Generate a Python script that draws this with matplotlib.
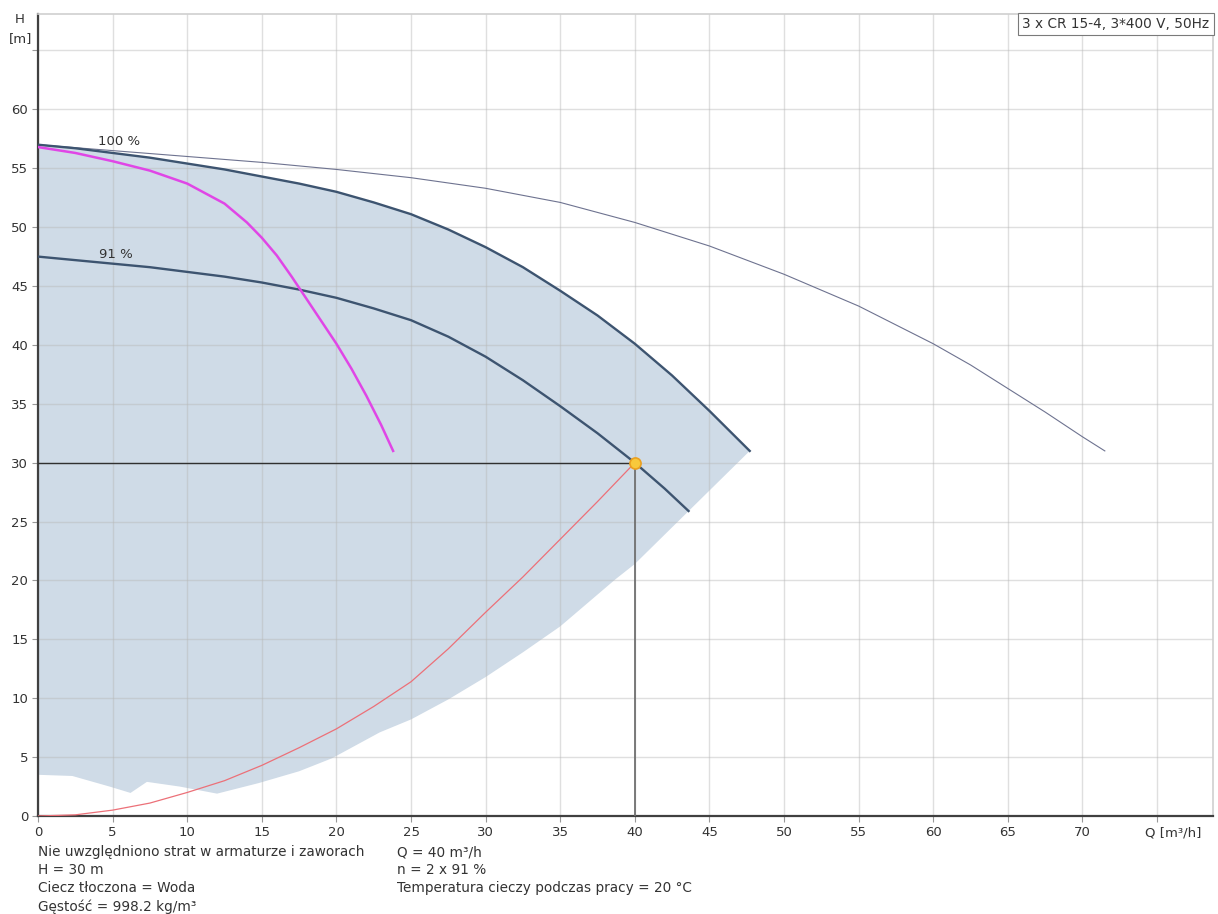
import matplotlib
matplotlib.use("Agg")
import matplotlib.pyplot as plt


# 3 pumps, 100 % speed (thin curve)
q_three = [0, 5, 10, 15, 20, 25, 30, 35, 40, 45, 50, 55, 60, 62.5, 65, 67.5, 70, 71.5]
h_three = [57.0, 56.5, 56.0, 55.5, 54.9, 54.2, 53.3, 52.1, 50.4, 48.4, 46.0, 43.3, 40.1,
           38.3, 36.3, 34.3, 32.2, 31.0]

# 2 pumps, 100 % speed (upper edge of the shaded area)
q_full = [0, 2.5, 5, 7.5, 10, 12.5, 15, 17.5, 20, 22.5, 25, 27.5, 30, 32.5, 35, 37.5,
          40, 42.5, 45, 47.7]
h_full = [57.0, 56.7, 56.3, 55.9, 55.4, 54.9, 54.3, 53.7, 53.0, 52.1, 51.1, 49.8, 48.3,
          46.6, 44.6, 42.5, 40.1, 37.4, 34.4, 31.0]

# 2 pumps, 91 % speed
q_91 = [0, 2.5, 5, 7.5, 10, 12.5, 15, 17.5, 20, 22.5, 25, 27.5, 30, 32.5, 35, 37.5, 40,
        42, 43.6]
h_91 = [47.5, 47.2, 46.9, 46.6, 46.2, 45.8, 45.3, 44.7, 44.0, 43.1, 42.1, 40.7, 39.0,
        37.0, 34.8, 32.5, 30.0, 27.8, 25.9]

# 1 pump, 100 % speed
q_single = [0, 2.5, 5, 7.5, 10, 12.5, 14, 15, 16, 17, 18, 19, 20, 21, 22, 23, 23.8]
h_single = [56.8, 56.3, 55.6, 54.8, 53.7, 52.0, 50.4, 49.1, 47.6, 45.8, 43.9, 42.0, 40.1,
            38.0, 35.7, 33.2, 31.0]

# system curve
q_system = [0, 2.5, 5, 7.5, 10, 12.5, 15, 17.5, 20, 22.5, 25, 27.5, 30, 32.5, 35, 37.5, 40]
h_system = [0.0, 0.1, 0.5, 1.1, 2.0, 3.0, 4.3, 5.8, 7.4, 9.3, 11.4, 14.2, 17.3, 20.3,
            23.5, 26.7, 30.0]

# lower edge of the shaded area
q_lower = [0, 2.3, 4.8, 6.2, 7.3, 9.5, 12, 14.8, 17.5, 19.7, 22.9, 25, 27.5, 30, 32.5,
           35, 38.7, 40, 47.7]
h_lower = [3.5, 3.4, 2.5, 1.96, 2.9, 2.5, 1.9, 2.8, 3.8, 4.9, 7.1, 8.2, 9.9, 11.8, 13.9,
           16.1, 20.1, 21.4, 31.0]

Q_DUTY = 40
H_DUTY = 30

x_ticks = list(range(0, 80, 5))
x_labels = [str(v) for v in range(0, 75, 5)] + [""]
y_ticks = list(range(0, 70, 5))
y_labels = [str(v) for v in range(0, 65, 5)] + [""]

notes_left = [
    "Nie uwzględniono strat w armaturze i zaworach",
    "H = 30 m",
    "Ciecz tłoczona = Woda",
    "Gęstość = 998.2 kg/m³",
]
notes_right = [
    "Q = 40 m³/h",
    "n = 2 x 91 %",
    "Temperatura cieczy podczas pracy = 20 °C",
]

TEXT_COLOR = "#333333"
NOTE_SIZE = 9.8

plt.rcParams["font.family"] = ["DejaVu Sans"]
plt.rcParams["font.size"] = 9.5

fig = plt.figure(figsize=(12.18, 9.14), dpi=100)
ax = fig.add_axes([0.0312, 0.1072, 0.9647, 0.8775])

# shaded operating range
poly_q = [0] + q_full + q_lower[::-1]
poly_h = [h_lower[0]] + h_full + h_lower[::-1]
ax.fill(poly_q, poly_h, color="#cfdbe7", lw=0, zorder=1)

ax.plot(q_three, h_three, color="#6e7390", lw=0.8, zorder=3)
ax.plot(q_full, h_full, color="#3d5470", lw=1.7, zorder=3)
ax.plot(q_91, h_91, color="#3d5470", lw=1.7, zorder=3)
ax.plot(q_single, h_single, color="#e046e6", lw=1.8, zorder=3)
ax.plot(q_system, h_system, color="#ec7078", lw=0.9, zorder=3)

# duty point
ax.plot([0, Q_DUTY], [H_DUTY, H_DUTY], color="#303030", lw=1.0, zorder=3)
ax.plot([Q_DUTY, Q_DUTY], [0, H_DUTY], color="#707070", lw=1.3, zorder=3)
ax.plot(Q_DUTY, H_DUTY, "o", ms=8, mfc="#f8c93c", mec="#eba020", mew=1.2, zorder=4)

ax.text(4.0, 57.3, "100 %", ha="left", va="center", color=TEXT_COLOR)
ax.text(5.2, 47.7, "91 %", ha="center", va="center", color=TEXT_COLOR)

ax.set_xlim(0, 78.75)
ax.set_ylim(0, 68.1)
ax.set_xticks(x_ticks)
ax.set_xticklabels(x_labels)
ax.set_yticks(y_ticks)
ax.set_yticklabels(y_labels)
ax.tick_params(axis="both", direction="out", length=4, color="#999999",
               labelcolor=TEXT_COLOR)
ax.tick_params(axis="x", pad=3)
ax.tick_params(axis="y", pad=3)

ax.grid(True, color="#b8b8b8", alpha=0.45, lw=1.0)
for side in ["left", "bottom"]:
    ax.spines[side].set_color("#404040")
    ax.spines[side].set_linewidth(1.6)
for side in ["top", "right"]:
    ax.spines[side].set_color("#d0d0d0")
    ax.spines[side].set_linewidth(1.2)

ax.text(76.1, -0.85, "Q [m³/h]", ha="center", va="top", color=TEXT_COLOR)
ax.text(0.997, 0.996, "3 x CR 15-4, 3*400 V, 50Hz", ha="right", va="top",
        transform=ax.transAxes, color=TEXT_COLOR, fontsize=NOTE_SIZE, zorder=5,
        bbox=dict(boxstyle="square,pad=0.3", fc="white", ec="#7a7a7a", lw=0.8))

fig.text(0.0164, 0.979, "H", ha="center", va="center", color=TEXT_COLOR)
fig.text(0.0172, 0.958, "[m]", ha="center", va="center", color=TEXT_COLOR)

row_y = [0.0678, 0.0481, 0.0284, 0.0077]
for text, y in zip(notes_left, row_y):
    fig.text(0.0312, y, text, ha="left", va="center", color=TEXT_COLOR, fontsize=NOTE_SIZE)
for text, y in zip(notes_right, row_y):
    fig.text(0.326, y, text, ha="left", va="center", color=TEXT_COLOR, fontsize=NOTE_SIZE)

fig.savefig("out.png", dpi=100)
